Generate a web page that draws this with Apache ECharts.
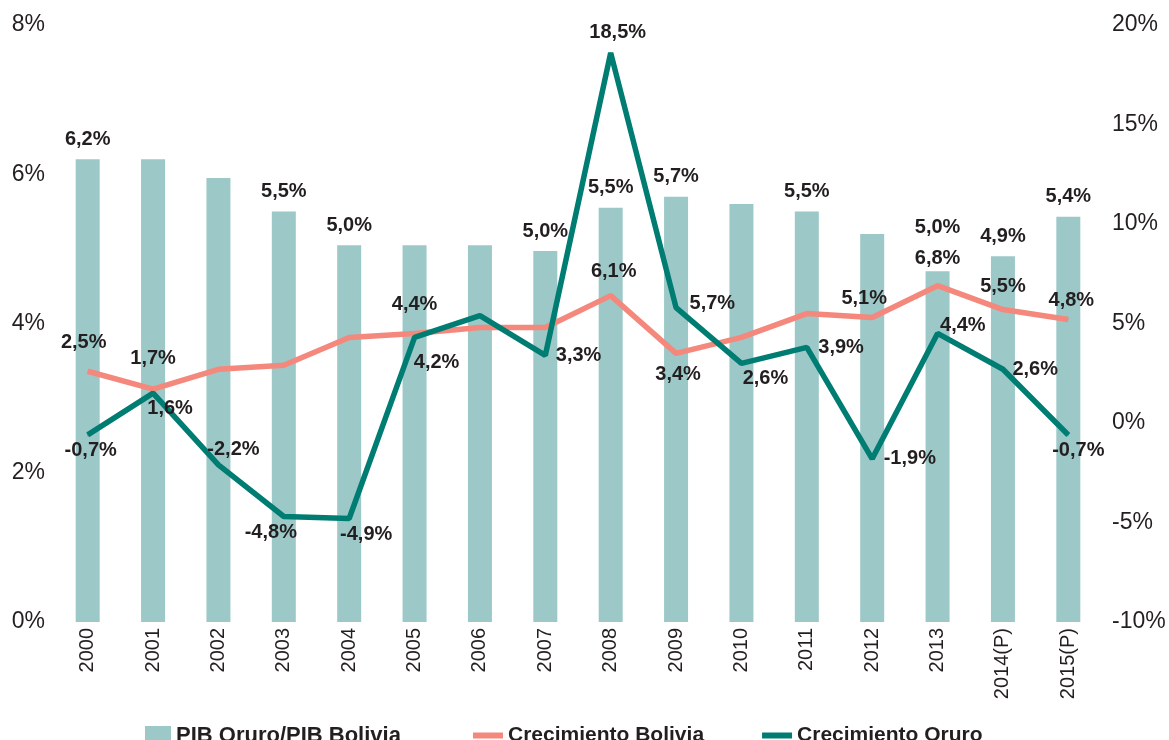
<!DOCTYPE html>
<html>
<head>
<meta charset="utf-8">
<script src="https://cdn.jsdelivr.net/npm/echarts@6/dist/echarts.min.js"></script>
<style>
  html, body { margin: 0; padding: 0; background: #fff; }
  #main { width: 1169px; height: 740px; }
</style>
</head>
<body>
<div id="main"></div>
<script>
// años
var years = ['2000', '2001', '2002', '2003', '2004', '2005', '2006', '2007',
    '2008', '2009', '2010', '2011', '2012', '2013', '2014(P)', '2015(P)'];

// PIB Oruro / PIB Bolivia (%), eje izquierdo
var pibShare = [6.2, 6.2, 5.95, 5.5, 5.05, 5.05, 5.05, 4.97, 5.55, 5.7, 5.6, 5.5, 5.2, 4.7, 4.9, 5.43];
var pibShareLabels = ['6,2%', '', '', '5,5%', '5,0%', '', '', '5,0%', '5,5%', '5,7%', '', '5,5%', '', '5,0%', '4,9%', '5,4%'];

// crecimiento (%), eje derecho
var growthBolivia = [2.6, 1.7, 2.7, 2.9, 4.3, 4.5, 4.8, 4.8, 6.4, 3.5, 4.3, 5.5, 5.3, 6.9, 5.7, 5.2];
var growthBoliviaLabels = ['2,5%', '1,7%', '', '', '', '4,4%', '', '', '6,1%', '3,4%', '', '', '5,1%', '6,8%', '5,5%', '4,8%'];

var growthOruro = [-0.6, 1.5, -2.1, -4.7, -4.8, 4.3, 5.4, 3.4, 18.6, 5.8, 3.0, 3.8, -1.8, 4.5, 2.7, -0.6];
var growthOruroLabels = ['-0,7%', '1,6%', '-2,2%', '-4,8%', '-4,9%', '4,2%', '', '3,3%', '18,5%', '5,7%', '2,6%', '3,9%', '-1,9%', '4,4%', '2,6%', '-0,7%'];

// posicion de etiquetas: [position, dx, dy]
var boliviaLabelPos = [['top', -4, -13], ['top', 0, -15], null, null, null, ['top', 0, -13], null, null,
    ['top', 3, -9], ['bottom', 2, 6], null, null, ['top', -8, -4], ['top', 0, -12], ['top', 0, -8], ['top', 3, -4]];
var oruroLabelPos = [['bottom', 3, 0], ['bottom', 17, 0], ['top', 15, 0], ['bottom', -13, 0], ['bottom', 17, 0],
    ['bottom', 22, 10], null, ['right', 5, 0], ['top', 7, -5], ['right', 8, -4], ['bottom', 24, 0],
    ['right', 6, 0], ['right', 6, 0], ['right', -3, -8], ['right', 4, 0], ['bottom', 10, 0]];

var font = "'Liberation Sans', Arial, sans-serif";
var labelStyle = { fontFamily: font, fontSize: 20, fontWeight: 'bold', color: '#231f20' };

function lineData(values, texts, pos) {
    return values.map(function (v, i) {
        var p = pos[i];
        if (!p || !texts[i]) return { value: v, label: { show: false } };
        return {
            value: v,
            label: Object.assign({
                show: true,
                position: p[0],
                distance: 5,
                offset: [p[1], p[2]],
                formatter: texts[i]
            }, labelStyle)
        };
    });
}

var barData = pibShare.map(function (v, i) {
    var t = pibShareLabels[i];
    return {
        value: v,
        label: t ? Object.assign({
            show: true, position: 'top', distance: 10,
            offset: i === 13 ? [0, -24] : [0, 0],
            formatter: t
        }, labelStyle) : { show: false }
    };
});

var chartDom = document.getElementById('main');
var myChart = echarts.init(chartDom);
var option;

option = {
    animation: false,
    textStyle: { fontFamily: font },
    grid: { left: 55, right: 68, top: 25, bottom: 118 },
    legend: [
        {
            left: 140, top: 720,
            itemWidth: 26, itemHeight: 20,
            icon: 'rect',
            data: ['PIB Oruro/PIB Bolivia'],
            textStyle: { fontFamily: font, fontSize: 22, fontWeight: 'bold', color: '#231f20' }
        },
        {
            left: 468, top: 720,
            itemWidth: 30, itemHeight: 6, itemGap: 58,
            icon: 'rect',
            data: ['Crecimiento Bolivia', 'Crecimiento Oruro'],
            textStyle: { fontFamily: font, fontSize: 21, fontWeight: 'bold', color: '#231f20' }
        }
    ],
    xAxis: {
        type: 'category',
        data: years,
        axisLine: { show: false },
        axisTick: { show: false },
        axisLabel: { rotate: 90, margin: 6, fontSize: 20, color: '#231f20', fontFamily: font, interval: 0 }
    },
    yAxis: [
        {
            type: 'value', min: 0, max: 8, interval: 2,
            splitLine: { show: false },
            axisLabel: { formatter: '{value}%', fontSize: 23, color: '#231f20', fontFamily: font, margin: 10 }
        },
        {
            type: 'value', min: -10, max: 20, interval: 5,
            splitLine: { show: false },
            axisLabel: { formatter: '{value}%', fontSize: 23, color: '#231f20', fontFamily: font, margin: 11 }
        }
    ],
    series: [
        {
            name: 'PIB Oruro/PIB Bolivia',
            type: 'bar',
            barWidth: 24,
            itemStyle: { color: '#9cc8c8' },
            data: barData
        },
        {
            name: 'Crecimiento Bolivia',
            type: 'line',
            yAxisIndex: 1,
            symbol: 'circle', symbolSize: 1, showSymbol: true,
            lineStyle: { width: 5.5, color: '#f4887c' },
            itemStyle: { color: '#f4887c' },
            data: lineData(growthBolivia, growthBoliviaLabels, boliviaLabelPos)
        },
        {
            name: 'Crecimiento Oruro',
            type: 'line',
            yAxisIndex: 1,
            symbol: 'circle', symbolSize: 1, showSymbol: true,
            lineStyle: { width: 5.5, color: '#007d73' },
            itemStyle: { color: '#007d73' },
            data: lineData(growthOruro, growthOruroLabels, oruroLabelPos)
        }
    ]
};

option && myChart.setOption(option);
</script>
</body>
</html>
